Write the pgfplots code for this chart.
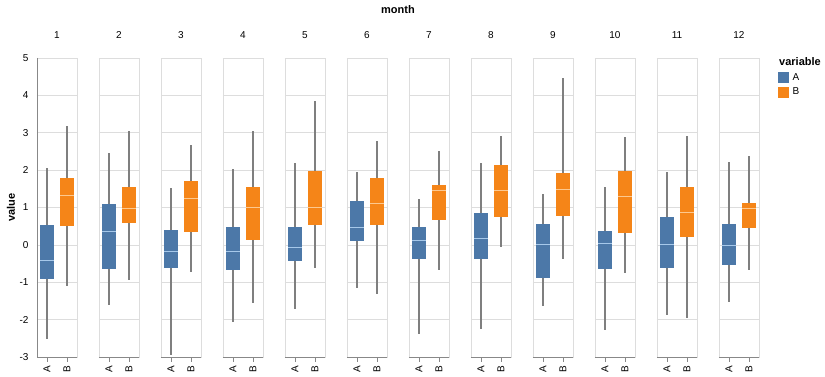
\documentclass[border=0pt]{standalone}
\usepackage{pgfplots}
\pgfplotsset{compat=1.18}
\usepgfplotslibrary{groupplots,statistics}
\usepackage{fontspec}
\setmainfont{Liberation Sans}
\definecolor{colA}{HTML}{4C78A8}
\definecolor{colB}{HTML}{F58518}
\definecolor{medA}{HTML}{A6C8EA}
\definecolor{medB}{HTML}{FDC88E}
\definecolor{gridc}{HTML}{DDDDDD}
\definecolor{domc}{HTML}{888888}
\definecolor{whisk}{HTML}{7F7F7F}
\pgfplotsset{
 boxA/.style={forget plot, boxplot/every box/.style={fill=colA,draw=none},
   boxplot/every median/.style={draw=medA,line width=1pt},
   boxplot/every whisker/.style={draw=whisk,line width=1.6pt}},
 boxB/.style={forget plot, boxplot/every box/.style={fill=colB,draw=none},
   boxplot/every median/.style={draw=medB,line width=1pt},
   boxplot/every whisker/.style={draw=whisk,line width=1.6pt}},
}
\begin{document}
\begin{tikzpicture}
\begin{groupplot}[
 group style={group size=12 by 1, horizontal sep=22pt, group name=group},
 width=40pt, height=299pt, scale only axis,
 xmin=-0.5, xmax=1.5, ymin=-3, ymax=5,
 xtick={0,1}, xticklabels={A,B}, ytick={-3,-2,-1,0,1,2,3,4,5},
 ymajorgrids, grid style={gridc, line width=0.5pt},
 axis line style={gridc, line width=0.5pt},
 tick align=outside, major tick length=5pt, tick style={domc, line width=0.5pt},
 xtick pos=left, ytick pos=left,
 xticklabel style={rotate=90, anchor=east, font=\fontsize{10}{12}\selectfont},
 yticklabel style={font=\fontsize{10}{12}\selectfont},
 /pgf/number format/assume math mode=true,
 boxplot/draw direction=y, boxplot/box extend=0.7, boxplot/whisker extend=0,
 extra description/.code={\draw[domc, line width=0.5pt] (0,0) -- (1,0);},
 title style={at={(0.5,1)}, anchor=base, yshift=13pt, inner sep=0pt, font=\fontsize{10}{12}\selectfont},
 yticklabels={}, ytick style={draw=none},
]
\nextgroupplot[title={1}, yticklabels={-3,-2,-1,0,1,2,3,4,5}, ytick style={domc, line width=0.5pt},
 ylabel={\textbf{value}}, ylabel style={at={(axis description cs:-0.65,0.5)}, anchor=center, font=\fontsize{11}{13}\selectfont},
 extra description/.code={\draw[domc, line width=0.5pt] (0,1) -- (0,0) -- (1,0);}]
\addplot[boxA, boxplot prepared={draw position=0, lower whisker=-2.52, lower quartile=-0.90, median=-0.43, upper quartile=0.52, upper whisker=2.05}] coordinates {};
\addplot[boxB, boxplot prepared={draw position=1, lower whisker=-1.10, lower quartile=0.50, median=1.32, upper quartile=1.80, upper whisker=3.18}] coordinates {};
\nextgroupplot[title={2}]
\addplot[boxA, boxplot prepared={draw position=0, lower whisker=-1.62, lower quartile=-0.65, median=0.35, upper quartile=1.10, upper whisker=2.45}] coordinates {};
\addplot[boxB, boxplot prepared={draw position=1, lower whisker=-0.95, lower quartile=0.58, median=0.98, upper quartile=1.55, upper whisker=3.05}] coordinates {};
\nextgroupplot[title={3}]
\addplot[boxA, boxplot prepared={draw position=0, lower whisker=-2.95, lower quartile=-0.62, median=-0.17, upper quartile=0.40, upper whisker=1.53}] coordinates {};
\addplot[boxB, boxplot prepared={draw position=1, lower whisker=-0.72, lower quartile=0.35, median=1.24, upper quartile=1.71, upper whisker=2.67}] coordinates {};
\nextgroupplot[title={4}]
\addplot[boxA, boxplot prepared={draw position=0, lower whisker=-2.07, lower quartile=-0.67, median=-0.19, upper quartile=0.49, upper whisker=2.02}] coordinates {};
\addplot[boxB, boxplot prepared={draw position=1, lower whisker=-1.55, lower quartile=0.13, median=1.00, upper quartile=1.55, upper whisker=3.06}] coordinates {};
\nextgroupplot[title={5}]
\addplot[boxA, boxplot prepared={draw position=0, lower whisker=-1.71, lower quartile=-0.44, median=-0.06, upper quartile=0.47, upper whisker=2.19}] coordinates {};
\addplot[boxB, boxplot prepared={draw position=1, lower whisker=-0.63, lower quartile=0.54, median=0.99, upper quartile=1.98, upper whisker=3.85}] coordinates {};
\nextgroupplot[title={6}]
\addplot[boxA, boxplot prepared={draw position=0, lower whisker=-1.16, lower quartile=0.10, median=0.46, upper quartile=1.18, upper whisker=1.94}] coordinates {};
\addplot[boxB, boxplot prepared={draw position=1, lower whisker=-1.31, lower quartile=0.54, median=1.12, upper quartile=1.78, upper whisker=2.77}] coordinates {};
\nextgroupplot[title={7}]
\addplot[boxA, boxplot prepared={draw position=0, lower whisker=-2.39, lower quartile=-0.38, median=0.11, upper quartile=0.47, upper whisker=1.24}] coordinates {};
\addplot[boxB, boxplot prepared={draw position=1, lower whisker=-0.66, lower quartile=0.66, median=1.45, upper quartile=1.60, upper whisker=2.50}] coordinates {};
\nextgroupplot[title={8}]
\addplot[boxA, boxplot prepared={draw position=0, lower whisker=-2.26, lower quartile=-0.39, median=0.16, upper quartile=0.84, upper whisker=2.18}] coordinates {};
\addplot[boxB, boxplot prepared={draw position=1, lower whisker=-0.07, lower quartile=0.75, median=1.45, upper quartile=2.14, upper whisker=2.92}] coordinates {};
\nextgroupplot[title={9}]
\addplot[boxA, boxplot prepared={draw position=0, lower whisker=-1.64, lower quartile=-0.88, median=0.00, upper quartile=0.57, upper whisker=1.35}] coordinates {};
\addplot[boxB, boxplot prepared={draw position=1, lower whisker=-0.37, lower quartile=0.78, median=1.49, upper quartile=1.91, upper whisker=4.47}] coordinates {};
\nextgroupplot[title={10}]
\addplot[boxA, boxplot prepared={draw position=0, lower whisker=-2.28, lower quartile=-0.65, median=0.05, upper quartile=0.36, upper whisker=1.54}] coordinates {};
\addplot[boxB, boxplot prepared={draw position=1, lower whisker=-0.75, lower quartile=0.32, median=1.30, upper quartile=1.98, upper whisker=2.89}] coordinates {};
\nextgroupplot[title={11}]
\addplot[boxA, boxplot prepared={draw position=0, lower whisker=-1.88, lower quartile=-0.62, median=0.00, upper quartile=0.75, upper whisker=1.94}] coordinates {};
\addplot[boxB, boxplot prepared={draw position=1, lower whisker=-1.96, lower quartile=0.21, median=0.86, upper quartile=1.55, upper whisker=2.92}] coordinates {};
\nextgroupplot[title={12},
 legend style={at={(rel axis cs:1,1)}, anchor=north west, xshift=19pt, yshift=-14pt, draw=none, fill=none, inner sep=0pt, row sep=4pt, column sep=3pt,
   nodes={inner sep=1pt, anchor=west, font=\fontsize{10}{12}\selectfont}},
 legend cell align=left]
\addplot[boxA, boxplot prepared={draw position=0, lower whisker=-1.54, lower quartile=-0.54, median=-0.01, upper quartile=0.56, upper whisker=2.22}] coordinates {};
\addplot[boxB, boxplot prepared={draw position=1, lower whisker=-0.68, lower quartile=0.44, median=0.97, upper quartile=1.11, upper whisker=2.39}] coordinates {};
\addlegendimage{legend image code/.code={\fill[colA] (0pt,-5pt) rectangle (10pt,5pt);}}
\addlegendentry{A}
\addlegendimage{legend image code/.code={\fill[colB] (0pt,-5pt) rectangle (10pt,5pt);}}
\addlegendentry{B}
\end{groupplot}
\path (group c1r1.north west) ++(361pt,44pt) node[anchor=base, font=\bfseries\fontsize{11}{13}\selectfont] {month};
\path (group c12r1.north east) ++(20pt,-8pt) node[anchor=base west, inner sep=0pt, font=\bfseries\fontsize{11}{13}\selectfont] {variable};
\pgfresetboundingbox
\path[use as bounding box] (group c1r1.south west) ++(-37pt,-20pt) rectangle ++(825pt,377pt);
\end{tikzpicture}
\end{document}
